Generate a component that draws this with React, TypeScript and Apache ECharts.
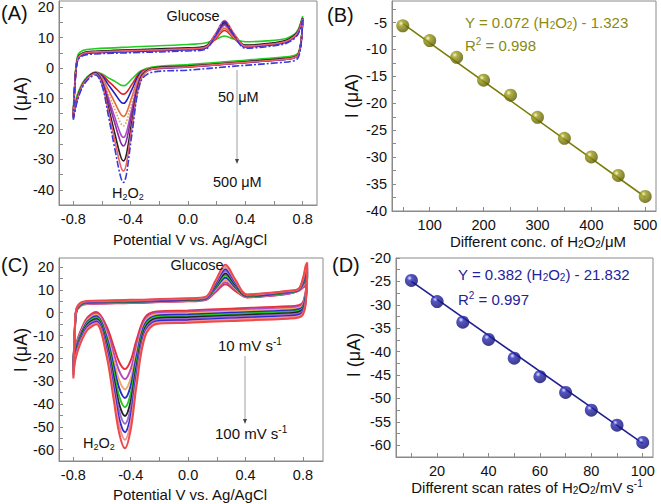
import React, { useEffect, useRef } from 'react';
import * as echarts from 'echarts';

const FONT = '"Liberation Sans", Arial, Helvetica, sans-serif';
const AXIS_GRAY = '#8a8a8a';
const OLIVE = '#8a8a10';
const NAVY = '#22229e';

// ---------- Panel A: CVs at different H2O2 concentrations (50 -> 500 uM) ----------
const A_FWD_X = [-0.8, -0.79, -0.77, -0.73, -0.65, -0.4, 0, 0.12, 0.19, 0.255, 0.32, 0.4, 0.55, 0.68, 0.74, 0.77, 0.79, 0.8];
const A_REV_X = [0.79, 0.77, 0.74, 0.65, 0.3, 0, -0.25, -0.33, -0.39, -0.43, -0.45, -0.47, -0.51, -0.56, -0.6, -0.645, -0.72, -0.77, -0.8];
const A_FWD = [
  [-14, -5, 4, 5.8, 6.3, 6.9, 7.7, 8.2, 9.3, 10.5, 9.5, 8.6, 8.9, 9.6, 11, 12.8, 15.5, 17],
  [-16, -6, 3, 4.8, 5.3, 5.7, 6.3, 6.8, 9.4, 12.3, 9.7, 7.2, 7.7, 8.7, 10.3, 12, 14.8, 16.3],
  [-16.5, -6.5, 2.8, 4.5, 5.0, 5.4, 6.0, 6.5, 10.5, 14.8, 10.7, 6.9, 7.4, 8.4, 10.0, 11.7, 14.5, 16.0],
  [-16, -6, 3, 4.8, 5.3, 5.8, 6.4, 6.9, 9.8, 13.0, 10.0, 7.3, 7.8, 8.8, 10.4, 12.1, 14.9, 16.3],
  [-16, -6, 3.1, 4.9, 5.4, 5.9, 6.5, 7.0, 10.1, 13.5, 10.3, 7.4, 7.9, 8.9, 10.5, 12.2, 15.0, 16.4],
  [-16, -6, 3, 4.8, 5.3, 5.7, 6.3, 6.8, 10.2, 14.0, 10.5, 7.2, 7.7, 8.7, 10.3, 12.0, 14.8, 16.2],
  [-16.2, -6.2, 2.9, 4.7, 5.2, 5.6, 6.2, 6.7, 10.4, 14.4, 10.7, 7.1, 7.6, 8.6, 10.2, 11.9, 14.7, 16.1],
  [-16, -6, 3.2, 5.0, 5.5, 6.0, 6.6, 7.1, 10.9, 15.0, 11.1, 7.5, 8.0, 9.0, 10.6, 12.3, 15.0, 16.4],
  [-16.3, -6.3, 3, 4.8, 5.3, 5.7, 6.3, 6.8, 11.1, 15.6, 11.4, 7.2, 7.7, 8.7, 10.3, 12.0, 14.8, 16.2],
  [-17, -7, 2.4, 4.1, 4.6, 5.0, 5.6, 6.1, 10.6, 15.3, 10.9, 6.5, 7.0, 8.0, 9.6, 11.3, 14.3, 15.8],
];
const A_REV = [
  [9.5, 5.1, 4.1, 3.5, 2.2, 1.1, 0.3, -1.0, -3.55, -5.46, -5.8, -5.56, -4.39, -3.15, -1.93, -1.3, -3.8, -8.5, -14],
  [9, 4.5, 3.5, 2.9, 1.6, 0.5, -0.2, -1.31, -5.29, -8.06, -8.6, -8.22, -6.35, -4.13, -2.26, -1.5, -4.2, -9.5, -16],
  [8.8, 4.3, 3.3, 2.7, 1.4, 0.3, -0.4, -1.61, -6.94, -10.85, -11.6, -11.07, -8.45, -5.21, -2.62, -1.6, -4.4, -9.8, -16.5],
  [9, 4.5, 3.5, 2.9, 1.6, 0.5, -0.2, -2.04, -9.31, -14.85, -15.9, -15.16, -11.46, -6.76, -3.14, -1.5, -4.2, -9.5, -16],
  [9, 4.6, 3.6, 3.0, 1.7, 0.6, -0.1, -2.35, -11.01, -17.73, -19, -18.1, -13.63, -7.87, -3.5, -1.5, -4.2, -9.5, -16],
  [9, 4.4, 3.4, 2.8, 1.5, 0.4, -0.3, -2.73, -13.1, -21.27, -22.8, -21.71, -16.29, -9.24, -3.97, -1.6, -4.3, -9.6, -16],
  [8.9, 4.3, 3.3, 2.7, 1.4, 0.3, -0.4, -3.01, -14.64, -23.87, -25.6, -24.37, -18.25, -10.25, -4.3, -1.7, -4.4, -9.8, -16.2],
  [9.1, 4.6, 3.6, 3.0, 1.7, 0.6, -0.1, -3.5, -17.33, -28.43, -30.5, -29.03, -21.68, -12.0, -4.9, -1.6, -4.3, -9.6, -16],
  [9, 4.4, 3.4, 2.8, 1.5, 0.4, -0.3, -3.83, -19.15, -31.5, -33.8, -32.16, -24.0, -13.2, -5.3, -1.8, -4.5, -9.9, -16.3],
  [8.3, 3.5, 2.4, 1.8, 0.5, -0.7, -1.4, -4.5, -21.24, -35.04, -37.6, -35.77, -26.65, -14.57, -5.74, -2.3, -5.0, -10.5, -17],
];
const A_COLORS = ['#22cc22', '#e02020', '#2020c0', '#e46a38', '#e3a25a', '#b04cc8', '#8a2aa0', '#222222', '#f0606a', '#3a3ad8'];
const A_DASH: any[] = ['solid', 'solid', 'solid', 'solid', 'dotted', 'solid', 'solid', 'solid', 'solid', [7, 2, 2, 2]];

// ---------- Panel B: peak current vs concentration ----------
const B_CONC = [50, 100, 150, 200, 250, 300, 350, 400, 450, 500];
const B_CURRENT = [-5.6, -8.35, -11.45, -15.7, -18.5, -22.6, -26.5, -29.95, -33.4, -37.3];
const B_FIT = [[50, -5.2], [500, -37.4]];

// ---------- Panel C: CVs at different scan rates (10 -> 100 mV/s) ----------
const C_FWD_X = [-0.8, -0.79, -0.78, -0.75, -0.7, -0.4, 0, 0.12, 0.19, 0.26, 0.33, 0.41, 0.55, 0.7, 0.77, 0.8, 0.82, 0.83];
const C_REV_X = [0.82, 0.8, 0.77, 0.7, 0.3, 0, -0.22, -0.3, -0.36, -0.4, -0.44, -0.48, -0.52, -0.57, -0.64, -0.7, -0.74, -0.77, -0.79, -0.8];
const C_FWD = [
  [-22, -9.5, 0.0, 3.0, 3.8, 4.3, 5.0, 5.6, 9.0, 12.5, 9.5, 6.7, 7.3, 8.3, 9.6, 11.0, 11.8, 13],
  [-22.8, -9.35, 0.15, 3.15, 3.95, 4.45, 5.15, 5.75, 9.6, 13.4, 10.0, 6.85, 7.45, 8.45, 9.7, 11.45, 12.8, 14],
  [-23.5, -9.2, 0.3, 3.3, 4.1, 4.6, 5.3, 5.9, 10.2, 14.4, 10.6, 7.0, 7.6, 8.6, 9.8, 11.9, 13.8, 15],
  [-24.3, -9.05, 0.45, 3.45, 4.25, 4.75, 5.45, 6.05, 10.7, 15.3, 11.1, 7.15, 7.75, 8.75, 9.9, 12.35, 14.8, 16],
  [-25, -8.9, 0.6, 3.6, 4.4, 4.9, 5.6, 6.2, 11.2, 16.3, 11.7, 7.3, 7.9, 8.9, 10.0, 12.8, 15.8, 17],
  [-25.8, -8.75, 0.75, 3.75, 4.55, 5.05, 5.75, 6.35, 11.8, 17.2, 12.2, 7.45, 8.05, 9.05, 10.1, 13.25, 16.8, 18],
  [-26.5, -8.6, 0.9, 3.9, 4.7, 5.2, 5.9, 6.5, 12.3, 18.2, 12.8, 7.6, 8.2, 9.2, 10.2, 13.7, 17.8, 19],
  [-27.3, -8.45, 1.05, 4.05, 4.85, 5.35, 6.05, 6.65, 12.9, 19.1, 13.3, 7.75, 8.35, 9.35, 10.3, 14.15, 18.8, 20],
  [-28, -8.3, 1.2, 4.2, 5.0, 5.5, 6.2, 6.8, 13.5, 20.1, 13.9, 7.9, 8.5, 9.5, 10.4, 14.6, 19.8, 21],
  [-28.8, -8.15, 1.35, 4.35, 5.15, 5.65, 6.35, 6.95, 14.0, 21.0, 14.4, 8.05, 8.65, 9.65, 10.5, 15.05, 20.8, 22],
];
const C_REV = [
  [9.5, 4.5, 3.3, 2.8, 1.8, 1.0, 0.5, -2.0, -12.1, -20.9, -24.7, -21.7, -14.6, -5.8, 0.3, -2.0, -6.5, -11.5, -16.5, -22],
  [8.9, 3.9, 2.7, 2.2, 1.2, 0.4, -0.1, -3.0, -14.6, -24.75, -29.1, -25.6, -17.5, -7.35, -0.3, -2.6, -7.1, -12.1, -17.1, -22.8],
  [8.3, 3.3, 2.1, 1.6, 0.6, -0.2, -0.7, -4.0, -17.15, -28.7, -33.6, -29.65, -20.4, -8.9, -0.9, -3.2, -7.7, -12.7, -17.7, -23.5],
  [7.7, 2.7, 1.5, 1.0, 0.0, -0.8, -1.3, -4.9, -19.35, -32.0, -37.4, -33.1, -23.0, -10.3, -1.5, -3.8, -8.3, -13.3, -18.3, -24.3],
  [7.1, 2.1, 0.9, 0.4, -0.6, -1.4, -1.9, -5.85, -21.65, -35.5, -41.4, -36.7, -25.6, -11.8, -2.1, -4.4, -8.9, -13.9, -18.9, -25],
  [6.5, 1.5, 0.3, -0.2, -1.2, -2.0, -2.5, -6.8, -23.9, -38.9, -45.3, -40.2, -28.2, -13.2, -2.7, -5.0, -9.5, -14.5, -19.5, -25.8],
  [5.9, 0.9, -0.3, -0.8, -1.8, -2.6, -3.1, -7.7, -25.9, -41.9, -48.7, -43.2, -30.5, -14.5, -3.3, -5.6, -10.1, -15.1, -20.1, -26.5],
  [5.3, 0.3, -0.9, -1.4, -2.4, -3.2, -3.7, -8.6, -28.05, -45.1, -52.4, -46.6, -32.9, -15.9, -3.9, -6.2, -10.7, -15.7, -20.7, -27.3],
  [4.7, -0.3, -1.5, -2.0, -3.0, -3.8, -4.3, -9.4, -30.0, -48.0, -55.7, -49.5, -35.1, -17.2, -4.5, -6.8, -11.3, -16.3, -21.3, -28],
  [4.1, -0.9, -2.1, -2.6, -3.6, -4.4, -4.9, -10.35, -32.15, -51.2, -59.4, -52.9, -37.6, -18.5, -5.1, -7.4, -11.9, -16.9, -21.9, -28.8],
];
const C_COLORS = ['#e8303a', '#b04cc0', '#f0a868', '#2a2ad0', '#22c322', '#222222', '#9a6ac8', '#2b2bd6', '#f29090', '#ee4a4a'];

// ---------- Panel D: peak current vs scan rate ----------
const D_RATE = [10, 20, 30, 40, 50, 60, 70, 80, 90, 100];
const D_CURRENT = [-24.8, -29.3, -33.7, -37.4, -41.4, -45.35, -48.7, -52.5, -55.7, -59.4];
const D_FIT = [[10, -25.0], [100, -59.6]];

// ---------- tick labels / tick positions ----------
const CV_X_LABELS = [-0.8, -0.4, 0, 0.4, 0.8];
const CV_X_TICKS = [-0.8, -0.6, -0.4, -0.2, 0, 0.2, 0.4, 0.6, 0.8];
const A_Y_LABELS = [-40, -30, -20, -10, 0, 10, 20];
const A_Y_TICKS = [-45, -40, -35, -30, -25, -20, -15, -10, -5, 0, 5, 10, 15, 20];
const B_X_LABELS = [100, 200, 300, 400, 500];
const B_X_TICKS = [50, 100, 150, 200, 250, 300, 350, 400, 450, 500];
const B_Y_LABELS = [-40, -35, -30, -25, -20, -15, -10, -5];
const B_Y_TICKS = [-40, -37.5, -35, -32.5, -30, -27.5, -25, -22.5, -20, -17.5, -15, -12.5, -10, -7.5, -5, -2.5];
const C_Y_LABELS = [-60, -50, -40, -30, -20, -10, 0, 10, 20];
const C_Y_TICKS = [-65, -60, -55, -50, -45, -40, -35, -30, -25, -20, -15, -10, -5, 0, 5, 10, 15, 20];
const D_X_LABELS = [20, 40, 60, 80, 100];
const D_X_TICKS = [10, 20, 30, 40, 50, 60, 70, 80, 90, 100];
const D_Y_LABELS = [-60, -55, -50, -45, -40, -35, -30, -25, -20];
const D_Y_TICKS = [-62.5, -60, -57.5, -55, -52.5, -50, -47.5, -45, -42.5, -40, -37.5, -35, -32.5, -30, -27.5, -25, -22.5, -20];

function axis(gridIndex: number, min: number, max: number, labels: number[], ticks: number[], isX: boolean, fmt?: (v: number) => string) {
  return {
    type: 'value',
    gridIndex,
    min,
    max,
    position: isX ? 'bottom' : 'left',
    axisLine: { show: true, onZero: false, lineStyle: { color: AXIS_GRAY, width: 1 } },
    axisTick: { show: true, inside: true, length: 4, customValues: ticks, lineStyle: { color: AXIS_GRAY, width: 1 } },
    axisLabel: {
      customValues: labels,
      color: '#111',
      fontSize: 14.5,
      fontFamily: FONT,
      margin: isX ? 6 : 5,
      formatter: fmt ? (v: number) => fmt(v) : (v: number) => String(v),
    },
    splitLine: { show: false },
    minorTick: { show: false },
  };
}

function rich(color: string, size: number) {
  const small = Math.round(size * 0.64);
  const off = Math.round(size * 0.45);
  return {
    sub: { fontSize: small, fontFamily: FONT, fill: color, padding: [off, 0, 0, 0] },
    sup: { fontSize: small, fontFamily: FONT, fill: color, padding: [0, 0, off, 0] },
  };
}

function txt(x: number, y: number, text: string, o: { size?: number; color?: string; align?: string; rot?: number } = {}) {
  const size = o.size || 15;
  const color = o.color || '#111';
  const align = o.align || 'left';
  return {
    type: 'text',
    x,
    y,
    rotation: o.rot || 0,
    silent: true,
    z: 100,
    style: {
      text,
      fill: color,
      fontSize: size,
      fontFamily: FONT,
      align,
      verticalAlign: 'middle',
      textAlign: align,
      textVerticalAlign: 'middle',
      rich: rich(color, size),
    },
  };
}

function arrow(x: number, y1: number, y2: number) {
  return [
    { type: 'line', silent: true, shape: { x1: x, y1, x2: x, y2: y2 - 4 }, style: { stroke: '#a0a0a0', lineWidth: 1 } },
    { type: 'polygon', silent: true, shape: { points: [[x - 2, y2 - 5], [x + 2, y2 - 5], [x, y2]] }, style: { fill: '#444' } },
  ];
}

function cvSeries(idx: number, fx: number[], rx: number[], fwd: number[][], rev: number[][], colors: string[], dashes: any[], width: number) {
  return fwd.map((f, k) => ({
    type: 'line',
    xAxisIndex: idx,
    yAxisIndex: idx,
    data: [...fx.map((x, i) => [x, f[i]]), ...rx.map((x, i) => [x, rev[k][i]])],
    showSymbol: false,
    symbol: 'none',
    smooth: 0.35,
    silent: true,
    lineStyle: { color: colors[k], width, type: dashes[k] },
    z: 2 + k,
  }));
}

function sphere(light: string, mid: string, dark: string) {
  return new echarts.graphic.RadialGradient(0.36, 0.32, 0.68, [
    { offset: 0, color: light },
    { offset: 0.28, color: mid },
    { offset: 1, color: dark },
  ]);
}

function buildOption() {
  const grids = [
    { left: 59, top: 1, width: 258, height: 204 },
    { left: 392, top: 1, width: 264, height: 210 },
    { left: 59, top: 258, width: 264, height: 203 },
    { left: 396, top: 258, width: 257, height: 199 },
  ].map((g) => ({ ...g, show: true, borderColor: AXIS_GRAY, borderWidth: 1, backgroundColor: 'transparent', containLabel: false, outerBoundsMode: 'none' }));

  const f1 = (v: number) => v.toFixed(1);
  const xAxis = [
    axis(0, -0.9, 0.9, CV_X_LABELS, CV_X_TICKS, true, f1),
    axis(1, 30, 520, B_X_LABELS, B_X_TICKS, true),
    axis(2, -0.9, 0.94, CV_X_LABELS, CV_X_TICKS, true, f1),
    axis(3, 4, 104, D_X_LABELS, D_X_TICKS, true),
  ];
  const yAxis = [
    axis(0, -45, 22, A_Y_LABELS, A_Y_TICKS, false),
    axis(1, -40, -1, B_Y_LABELS, B_Y_TICKS, false),
    axis(2, -65, 24, C_Y_LABELS, C_Y_TICKS, false),
    axis(3, -62.5, -20, D_Y_LABELS, D_Y_TICKS, false),
  ];

  const series: any[] = [
    ...cvSeries(0, A_FWD_X, A_REV_X, A_FWD, A_REV, A_COLORS, A_DASH, 1.6),
    ...cvSeries(2, C_FWD_X, C_REV_X, C_FWD, C_REV, C_COLORS, C_COLORS.map(() => 'solid'), 2),
    {
      type: 'line', xAxisIndex: 1, yAxisIndex: 1, data: B_FIT, showSymbol: false, symbol: 'none', silent: true,
      lineStyle: { color: '#7c7c08', width: 1.6 }, z: 3,
    },
    {
      type: 'scatter', xAxisIndex: 1, yAxisIndex: 1, silent: true, z: 4,
      data: B_CONC.map((x, i) => [x, B_CURRENT[i]]), symbolSize: 13,
      itemStyle: { color: sphere('#f6f6cc', '#9c9c18', '#5a5a00') },
    },
    {
      type: 'line', xAxisIndex: 3, yAxisIndex: 3, data: D_FIT, showSymbol: false, symbol: 'none', silent: true,
      lineStyle: { color: '#1f1f90', width: 1.6 }, z: 3,
    },
    {
      type: 'scatter', xAxisIndex: 3, yAxisIndex: 3, silent: true, z: 4,
      data: D_RATE.map((x, i) => [x, D_CURRENT[i]]), symbolSize: 13,
      itemStyle: { color: sphere('#e4e4ff', '#2a2ab8', '#0c0c6a') },
    },
  ];

  const graphic: any[] = [
    // Panel A
    txt(1, 13, '(A)', { size: 20 }),
    txt(193, 16, 'Glucose', { size: 14.5, align: 'center' }),
    txt(218, 97, '50 μM', { size: 14.5 }),
    txt(213, 182, '500 μM', { size: 14.5 }),
    ...arrow(237, 70, 164),
    txt(112, 193, 'H{sub|2}O{sub|2}', { size: 14.5 }),
    txt(21, 99, 'I (μA)', { size: 18, align: 'center', rot: Math.PI / 2 }),
    txt(190, 239, 'Potential V vs. Ag/AgCl', { size: 15, align: 'center' }),
    // Panel B
    txt(327, 15, '(B)', { size: 20 }),
    txt(465, 22, 'Y = 0.072 (H{sub|2}O{sub|2}) - 1.323', { size: 15, color: OLIVE }),
    txt(465, 45, 'R{sup|2} = 0.998', { size: 15, color: OLIVE }),
    txt(352, 96, 'I (μA)', { size: 18, align: 'center', rot: Math.PI / 2 }),
    txt(538, 241, 'Different conc. of H{sub|2}O{sub|2}/μM', { size: 15, align: 'center' }),
    // Panel C
    txt(1, 265, '(C)', { size: 20 }),
    txt(197, 265, 'Glucose', { size: 14.5, align: 'center' }),
    txt(218, 345, '10 mV s{sup|-1}', { size: 15 }),
    txt(215, 433, '100 mV s{sup|-1}', { size: 15 }),
    ...arrow(245, 356, 424),
    txt(83, 443, 'H{sub|2}O{sub|2}', { size: 14.5 }),
    txt(21, 350, 'I (μA)', { size: 18, align: 'center', rot: Math.PI / 2 }),
    txt(190, 494, 'Potential V vs. Ag/AgCl', { size: 15, align: 'center' }),
    // Panel D
    txt(332, 265, '(D)', { size: 20 }),
    txt(458, 274, 'Y = 0.382 (H{sub|2}O{sub|2}) - 21.832', { size: 15, color: NAVY }),
    txt(458, 299, 'R{sup|2} = 0.997', { size: 15, color: NAVY }),
    txt(354, 355, 'I (μA)', { size: 18, align: 'center', rot: Math.PI / 2 }),
    txt(527, 487, 'Different scan rates of H{sub|2}O{sub|2}/mV s{sup|-1}', { size: 15, align: 'center' }),
  ];

  return {
    animation: false,
    backgroundColor: '#ffffff',
    grid: grids,
    xAxis,
    yAxis,
    series,
    graphic,
  };
}

export default function App() {
  const ref = useRef<HTMLDivElement>(null);
  useEffect(() => {
    const chart = echarts.init(ref.current as HTMLDivElement, undefined, { renderer: 'svg' });
    chart.setOption(buildOption() as any);
    return () => chart.dispose();
  }, []);
  return <div ref={ref} style={{ position: 'fixed', left: 0, top: 0, width: 661, height: 504, background: '#fff' }} />;
}
